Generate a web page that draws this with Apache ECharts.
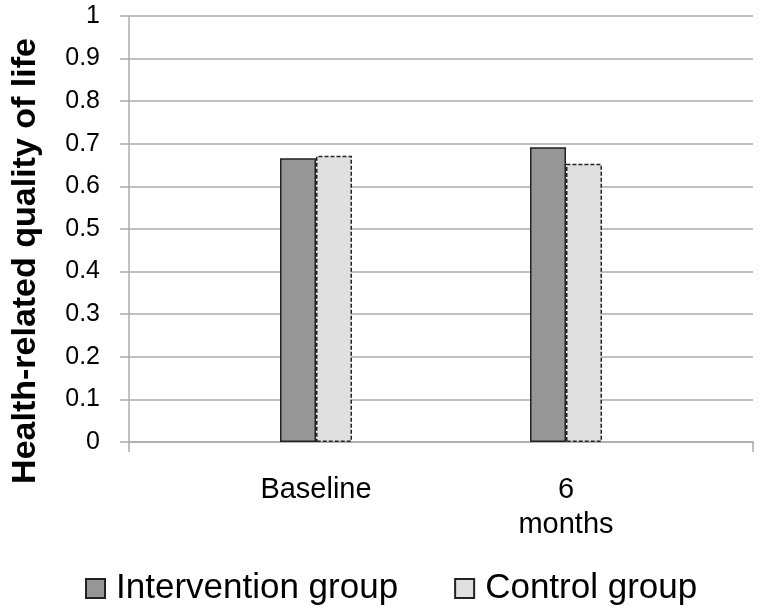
<!DOCTYPE html>
<html><head><meta charset="utf-8">
<script src="https://cdn.jsdelivr.net/npm/echarts@6/dist/echarts.min.js"></script>
<style>html,body{margin:0;padding:0;background:#fff}#c{width:762px;height:612px}</style>
</head><body><div id="c"></div>
<script>
var categories = ['Baseline', '6\nmonths'];
var seriesNames = ['Intervention group', 'Control group'];
var intervention = [0.666, 0.692];
var control = [0.672, 0.653];
var yTicks = { min: 0, max: 1, interval: 0.1 };
var yTitle = 'Health-related quality of life';

var FONT = '"Liberation Sans", Arial, sans-serif';
var lineCol = '#ababab';
var chart = echarts.init(document.getElementById('c'), null, { renderer: 'canvas' });
chart.setOption({
  animation: false,
  backgroundColor: '#ffffff',
  grid: [
    { left: 129, right: 9, top: 16, bottom: 170, outerBoundsMode: 'none', containLabel: false },
    { left: 191, width: 500, top: 16, bottom: 170, outerBoundsMode: 'none', containLabel: false }
  ],
  graphic: [{
    type: 'text', x: 26, y: 261, rotation: Math.PI / 2,
    style: { text: yTitle, fontFamily: FONT, fontSize: 34, fontWeight: 'bold', fill: '#000',
      align: 'center', verticalAlign: 'middle' }
  }],
  xAxis: [
    { type: 'category', gridIndex: 0, data: [''],
      axisLine: { lineStyle: { color: lineCol, width: 1.5 } },
      axisTick: { show: true, length: 10, lineStyle: { color: lineCol, width: 1.5 } },
      axisLabel: { show: false } },
    { type: 'category', gridIndex: 1, data: categories,
      axisLine: { show: false }, axisTick: { show: false },
      axisLabel: { fontFamily: FONT, fontSize: 29, color: '#000', margin: 30, lineHeight: 35 } }
  ],
  yAxis: [
    { type: 'value', gridIndex: 0, min: yTicks.min, max: yTicks.max, interval: yTicks.interval,
      axisLine: { show: true, lineStyle: { color: lineCol, width: 1.5 } },
      axisTick: { show: true, length: 9, lineStyle: { color: lineCol, width: 1.5 } },
      splitLine: { lineStyle: { color: lineCol, width: 1.5 } },
      axisLabel: { fontFamily: FONT, fontSize: 25, color: '#000', margin: 29,
        formatter: function (v) { return String(Math.round(v * 10) / 10); } } },
    { type: 'value', gridIndex: 1, min: yTicks.min, max: yTicks.max, show: false }
  ],
  legend: {
    data: seriesNames, left: 85, top: 571, padding: 0, icon: 'rect', itemWidth: 19, itemHeight: 19, itemGap: 56,
    textStyle: { fontFamily: FONT, fontSize: 35, color: '#000', padding: [0, 0, 0, 6] }
  },
  series: [
    { name: seriesNames[0], type: 'bar', xAxisIndex: 1, yAxisIndex: 1, data: intervention,
      barWidth: 36, barGap: '0%',
      itemStyle: { color: '#969696', borderColor: '#222', borderWidth: 1.5 } },
    { name: seriesNames[1], type: 'bar', xAxisIndex: 1, yAxisIndex: 1, data: control,
      barWidth: 36, barGap: '0%',
      itemStyle: { color: '#e0e0e0', borderColor: '#222', borderWidth: 1.5, borderType: [4, 2] } }
  ]
});
</script></body></html>
